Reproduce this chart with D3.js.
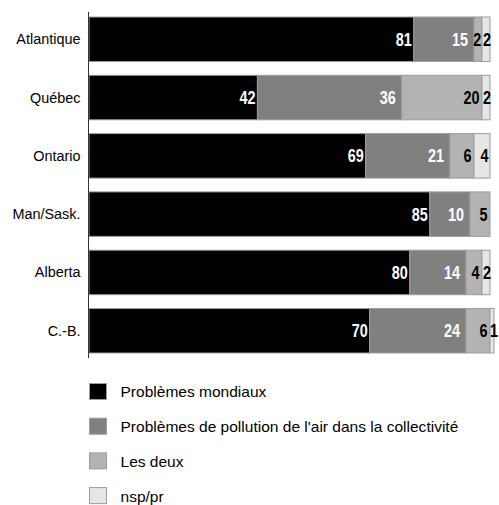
<!DOCTYPE html>
<html>
<head>
<meta charset="utf-8">
<script src="https://cdn.jsdelivr.net/npm/d3@7"></script>
<style>
  html, body { margin: 0; padding: 0; background: #fff; }
  svg { display: block; }
  text { font-family: "Liberation Sans", Arial, sans-serif; }
</style>
</head>
<body>
<svg id="chart" width="499" height="505"></svg>
<script>
// Regions (top to bottom)
const regions = ["Atlantique", "Québec", "Ontario", "Man/Sask.", "Alberta", "C.-B."];

// Response categories, in stacking order
const seriesNames = [
  "Problèmes mondiaux",
  "Problèmes de pollution de l'air dans la collectivité",
  "Les deux",
  "nsp/pr"
];

// Percentages per region for each series (0 = no response in that category)
const mondiaux   = [81, 42, 69, 85, 80, 70];
const pollution  = [15, 36, 21, 10, 14, 24];
const lesDeux    = [ 2, 20,  6,  5,  4,  6];
const nspPr      = [ 2,  2,  4,  0,  2,  1];

const seriesValues = [mondiaux, pollution, lesDeux, nspPr];
const fills      = ["#000000", "#808080", "#b3b3b3", "#e6e6e6"];
const labelFills = ["#ffffff", "#ffffff", "#000000", "#000000"];
const labelPad   = [2, 6, 2.5, 1.5];    // gap between label and segment end
const startGap   = [2, 2, 1, 2.5];      // minimum gap after segment start (tiny segments)
const labelMaxX  = 498;                 // keep labels inside the drawing

// Condense a text horizontally by a factor, keeping its anchor
function condense(sel, factor) {
  sel.each(function () {
    const w = this.getComputedTextLength();
    this.setAttribute("textLength", w * factor);
    this.setAttribute("lengthAdjust", "spacingAndGlyphs");
  });
}

const svg = d3.select("#chart");

const x = d3.scaleLinear().domain([0, 100]).range([89, 490]);
const y = d3.scaleBand().domain(regions).range([12, 358])
  .paddingInner(0.237).paddingOuter(0.086);

// Build stacked rows
const rows = regions.map((r, i) => {
  const o = { region: r };
  seriesNames.forEach((s, k) => { o[s] = seriesValues[k][i]; });
  return o;
});
const stacked = d3.stack().keys(seriesNames)(rows);

const layers = svg.append("g").selectAll("g")
  .data(stacked)
  .join("g")
  .attr("fill", (d, k) => fills[k]);

layers.selectAll("rect")
  .data(d => d.filter(p => p[1] - p[0] > 0))
  .join("rect")
  .attr("x", p => x(p[0]))
  .attr("y", p => y(p.data.region))
  .attr("width", p => x(p[1]) - x(p[0]))
  .attr("height", y.bandwidth())
  .attr("stroke", "#9c9c9c")
  .attr("stroke-width", 1);

// Value labels, right-aligned at the segment end
const condenseLabels = 0.8;
stacked.forEach((layer, k) => {
  svg.append("g").selectAll("text")
    .data(layer.filter(p => p[1] - p[0] > 0))
    .join("text")
    .attr("y", p => y(p.data.region) + y.bandwidth() / 2)
    .attr("dy", "0.36em")
    .attr("text-anchor", "end")
    .attr("font-size", 18)
    .attr("font-weight", "bold")
    .attr("fill", labelFills[k])
    .text(p => p[1] - p[0])
    .call(condense, condenseLabels)
    .attr("x", function (p) {
      const w = this.getComputedTextLength() * condenseLabels;
      const pos = Math.max(x(p[1]) - labelPad[k], x(p[0]) + startGap[k] + w);
      return Math.min(pos, labelMaxX);
    });
});

// Category axis
const yAxis = svg.append("g")
  .attr("transform", "translate(88.5,0)")
  .call(d3.axisLeft(y).tickSize(0).tickPadding(8));
yAxis.select(".domain").remove();
yAxis.selectAll("text")
  .attr("font-size", 15.5)
  .attr("fill", "#000")
  .attr("font-family", null)
  .call(condense, 0.93);

svg.append("line")
  .attr("x1", 88.5).attr("x2", 88.5)
  .attr("y1", 12).attr("y2", 358)
  .attr("stroke", "#333").attr("stroke-width", 1);

// Legend
const legend = svg.append("g").selectAll("g")
  .data(seriesNames)
  .join("g")
  .attr("transform", (d, k) => `translate(89.5,${383.5 + k * 34.7})`);

legend.append("rect")
  .attr("width", 17).attr("height", 16)
  .attr("fill", (d, k) => fills[k])
  .attr("stroke", "#9c9c9c");

legend.append("text")
  .attr("x", 31).attr("y", 8.5)
  .attr("dy", "0.36em")
  .attr("font-size", 15)
  .attr("fill", "#000")
  .text(d => d)
  .call(condense, 1.035);
</script>
</body>
</html>
